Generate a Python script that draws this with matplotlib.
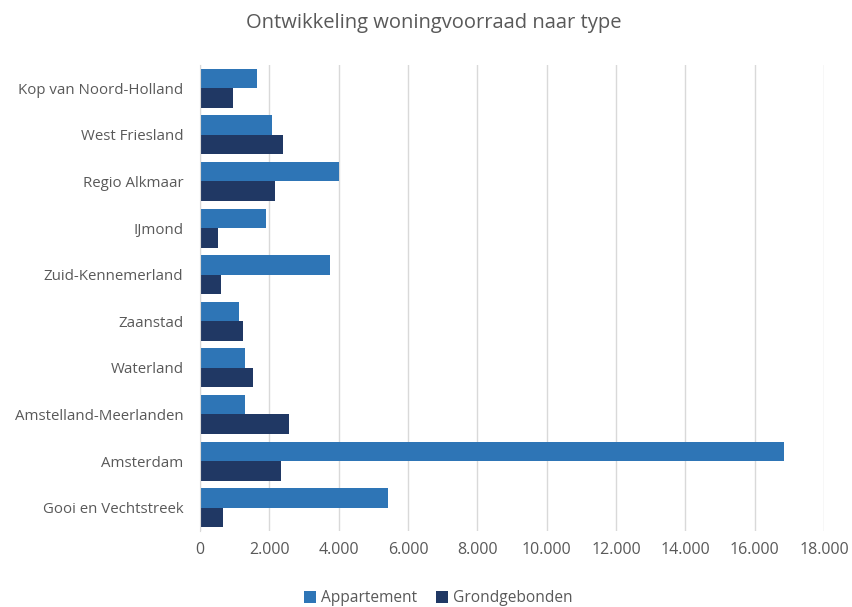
import matplotlib.pyplot as plt
import numpy as np
from matplotlib.ticker import FuncFormatter

regions = ['Kop van Noord-Holland', 'West Friesland', 'Regio Alkmaar', 'IJmond',
           'Zuid-Kennemerland', 'Zaanstad', 'Waterland', 'Amstelland-Meerlanden',
           'Amsterdam', 'Gooi en Vechtstreek']
appartement = [1640, 2090, 4000, 1910, 3760, 1130, 1310, 1310, 16840, 5430]
grondgebonden = [950, 2380, 2160, 530, 615, 1250, 1530, 2580, 2350, 665]

plt.rcParams['font.family'] = ['Open Sans', 'DejaVu Sans']

fig = plt.figure(figsize=(8.52, 6.07), dpi=100)
ax = fig.add_axes([200 / 852, 1 - 531 / 607, 624 / 852, 466 / 607])

y = np.arange(len(regions))
h = 0.42
ax.barh(y - h / 2, appartement, height=h, color='#2E75B6', label='Appartement')
ax.barh(y + h / 2, grondgebonden, height=h, color='#203864', label='Grondgebonden')

ax.set_yticks(y)
ax.set_yticklabels(regions)
ax.set_ylim(len(regions) - 0.5, -0.5)
ax.set_xlim(0, 18000)
ax.set_xticks(np.arange(0, 18001, 2000))
ax.xaxis.set_major_formatter(FuncFormatter(lambda v, p: f'{int(v):,}'.replace(',', '.')))

ax.grid(axis='x', color='#d9d9d9', linewidth=1)
ax.set_axisbelow(True)
for s in ['top', 'right', 'bottom']:
    ax.spines[s].set_visible(False)
ax.spines['left'].set_color('#d9d9d9')
ax.tick_params(axis='y', length=0, labelsize=10.8, colors='#595959', pad=12)
ax.tick_params(axis='x', length=0, labelsize=11.5, colors='#595959', pad=8)

fig.text(434 / 852, 1 - 23 / 607, 'Ontwikkeling woningvoorraad naar type', ha='center', va='center',
         fontsize=14.5, color='#595959')

fig.legend(loc='center', bbox_to_anchor=(438 / 852, 1 - 598 / 607), ncol=2, frameon=False,
           fontsize=11.2, labelcolor='#595959', handlelength=0.8, handleheight=0.8,
           columnspacing=1.2, handletextpad=0.3)

fig.savefig('out.png', dpi=100)
